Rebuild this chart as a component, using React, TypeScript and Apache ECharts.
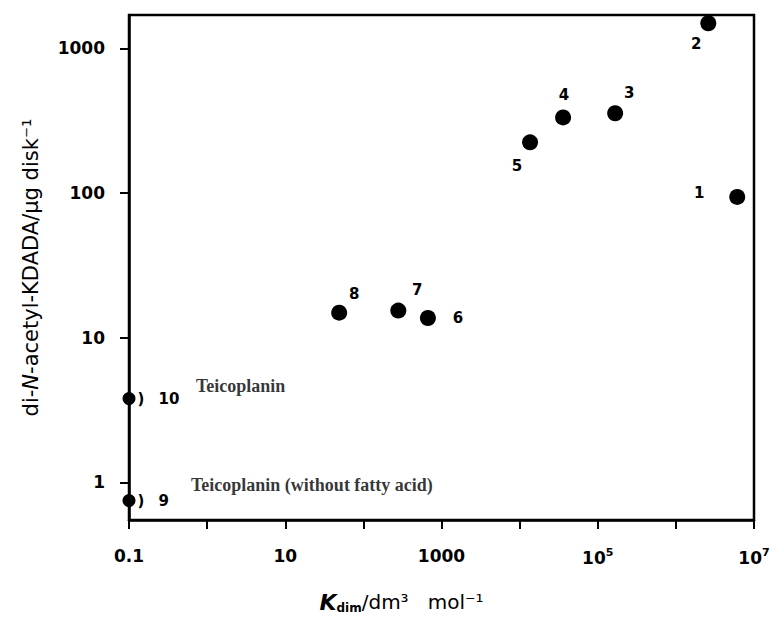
import React, { useEffect, useRef } from "react";
import * as echarts from "echarts";

// K_dim values (dm^3 mol^-1) and activity (di-N-acetyl-KDADA / µg disk^-1)
const compoundIds = ["1", "2", "3", "4", "5", "6", "7", "8", "9", "10"];
const kdim = [6.1e6, 2.6e6, 1.67e5, 3.6e4, 1.36e4, 670, 280, 49, 0.1, 0.1];
const activity = [94, 1490, 356, 333, 224, 13.7, 15.4, 14.9, 0.75, 3.8];
const notes = ["", "", "", "", "", "", "", "", "Teicoplanin (without fatty acid)", "Teicoplanin"];

const xLabelValues = [0.1, 10, 1000, 1e5, 1e7];
const xTickValues = [0.1, 1, 10, 100, 1000, 1e4, 1e5, 1e6, 1e7];
const yLabelValues = [1, 10, 100, 1000];

// label placement styling (offsets relative to symbol)
const labelOffsets: Record<string, [number, number]> = {
  "1": [-38, -4],
  "2": [-12, 21],
  "3": [14, -20],
  "4": [1, -22],
  "5": [-13, 24],
  "6": [30, 0],
  "7": [19, -21],
  "8": [15, -19],
};
const noteOffsets: Record<string, [number, number]> = {
  "9": [62, -16],
  "10": [67, -13],
};

const fmtX = (v: number) => {
  if (v === 1e5) return "10{sup|5}";
  if (v === 1e7) return "10{sup|7}";
  if (v === 0.1) return "0.1";
  return String(Math.round(v));
};

export default function App() {
  const ref = useRef<HTMLDivElement>(null);
  useEffect(() => {
    if (!ref.current) return;
    const chart = echarts.init(ref.current, undefined, { renderer: "svg" });
    const sans = "'DejaVu Sans', 'Liberation Sans', Arial, sans-serif";
    const serif = "'Liberation Serif', 'Times New Roman', serif";

    const mainData = compoundIds.map((id, i) => {
      const onAxis = kdim[i] <= 0.1;
      const item: any = {
        value: [kdim[i], activity[i]],
        name: id,
        symbolSize: onAxis ? 13 : 16,
      };
      if (onAxis) {
        item.label = {
          show: true,
          position: "right",
          distance: 2,
          formatter: "{p|)}{n|" + id + "}",
          rich: {
            p: { fontSize: 15, fontWeight: "bold", fontFamily: sans, width: 21, color: "#000" },
            n: { fontSize: 15, fontWeight: "bold", fontFamily: sans, color: "#000" },
          },
        };
      } else {
        item.label = {
          show: true,
          position: "inside",
          offset: labelOffsets[id],
          formatter: id,
        };
      }
      return item;
    });

    const noteData = compoundIds
      .map((id, i) => ({ id, i }))
      .filter((d) => notes[d.i] !== "")
      .map(({ id, i }) => ({
        value: [kdim[i], activity[i]],
        name: notes[i],
        label: { show: true, position: "right", distance: 0, offset: noteOffsets[id], formatter: notes[i] },
      }));

    chart.setOption({
      animation: false,
      backgroundColor: "#fff",
      grid: {
        left: 129,
        right: 21,
        top: 15,
        bottom: 98,
        containLabel: false,
        outerBoundsMode: "none",
        show: true,
        borderColor: "#000",
        borderWidth: 2.5,
        backgroundColor: "transparent",
      },
      xAxis: {
        type: "log",
        logBase: 10,
        min: 0.1,
        max: 1e7,
        name: "{k|K}{s|dim}{r|/dm³   mol⁻¹}",
        nameLocation: "middle",
        nameGap: 70,
        nameTextStyle: {
          padding: [0, 80, 0, 0],
          rich: {
            k: { fontSize: 22, fontStyle: "italic", fontWeight: "bold", fontFamily: sans, color: "#000" },
            s: { fontSize: 12, fontWeight: "bold", fontFamily: sans, color: "#000", padding: [12, 0, 0, 0] },
            r: { fontSize: 20, fontFamily: sans, color: "#000" },
          },
        },
        axisLine: { show: true, lineStyle: { color: "#000", width: 2.5 } },
        axisTick: { show: true, inside: false, length: 9, lineStyle: { color: "#000", width: 2 }, customValues: xTickValues },
        axisLabel: {
          customValues: xLabelValues,
          formatter: fmtX,
          margin: 27,
          fontSize: 17,
          fontWeight: "bold",
          fontFamily: sans,
          color: "#000",
          rich: {
            sup: { fontSize: 11, fontWeight: "bold", fontFamily: sans, color: "#000", padding: [0, 0, 10, 0] },
          },
        },
        splitLine: { show: false },
        minorTick: { show: false },
      },
      yAxis: {
        type: "log",
        logBase: 10,
        min: 0.55,
        max: 1700,
        name: "di-{i|N}-acetyl-KDADA/µg disk⁻¹",
        nameLocation: "middle",
        nameGap: 88,
        nameTextStyle: {
          fontSize: 21,
          fontFamily: sans,
          color: "#000",
          rich: {
            i: { fontSize: 21, fontStyle: "italic", fontFamily: sans, color: "#000" },
          },
        },
        axisLine: { show: true, lineStyle: { color: "#000", width: 2.5 } },
        axisTick: { show: true, inside: false, length: 9, lineStyle: { color: "#000", width: 2 }, customValues: yLabelValues },
        axisLabel: {
          customValues: yLabelValues,
          formatter: (v: number) => String(Math.round(v)),
          margin: 24,
          fontSize: 17,
          fontWeight: "bold",
          fontFamily: sans,
          color: "#000",
        },
        splitLine: { show: false },
        minorTick: { show: false },
      },
      series: [
        {
          type: "scatter",
          clip: false,
          symbol: "circle",
          itemStyle: { color: "#000", opacity: 1 },
          label: { color: "#000", fontSize: 15, fontWeight: "bold", fontFamily: sans },
          data: mainData,
          z: 3,
        },
        {
          type: "scatter",
          clip: false,
          symbolSize: 0,
          itemStyle: { color: "transparent" },
          label: { color: "#000", fontSize: 18, fontWeight: "bold", fontFamily: serif },
          data: noteData,
          z: 2,
        },
      ],
    });
    return () => chart.dispose();
  }, []);
  return (
    <div
      ref={ref}
      style={{ position: "fixed", left: 0, top: 0, width: 775, height: 618, overflow: "hidden" }}
    />
  );
}
